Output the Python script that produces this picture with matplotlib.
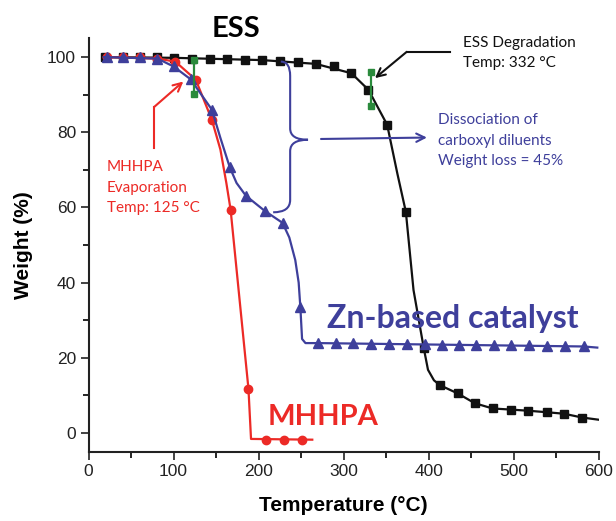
import matplotlib
matplotlib.use("Agg")
import matplotlib.pyplot as plt
from matplotlib.path import Path
from matplotlib.patches import PathPatch
from matplotlib.ticker import MultipleLocator

# ESS (black squares)
ess_t = [19, 40, 60, 80, 101, 122, 143, 163, 184, 204, 225, 246, 267, 289,
         309, 329, 351, 373, 394, 413, 434, 454, 475, 497, 517, 539, 559, 580]
ess_w = [100, 100, 100, 99.9, 99.8, 99.6, 99.5, 99.4, 99.3, 99.2, 99.0, 98.7,
         98.2, 97.5, 95.7, 91.3, 82.0, 58.8, 22.6, 12.7, 10.5, 7.9, 6.5, 6.2,
         5.9, 5.5, 5.1, 4.1]
# line through the ESS points, with the bends
ess_line_t = [19, 101, 204, 267, 309, 329, 351, 363, 373, 382, 394, 399, 406,
              413, 434, 454, 475, 497, 517, 539, 559, 580, 600]
ess_line_w = [100, 99.8, 99.2, 98.2, 95.7, 91.3, 82.0, 69.0, 58.8, 38.0, 22.6,
              16.8, 14.0, 12.7, 10.5, 7.9, 6.5, 6.2, 5.9, 5.5, 5.1, 4.1, 3.5]

# Zn-based catalyst (blue triangles)
zn_t = [22, 41, 61, 81, 100, 120, 145, 166, 185, 207, 228, 249, 270, 291,
        311, 332, 353, 374, 395, 415, 436, 456, 477, 497, 518, 539, 560, 582]
zn_w = [100, 100, 100, 99.6, 97.5, 94.1, 86.0, 70.7, 63.1, 59.1, 55.9, 33.4,
        23.9, 23.8, 23.8, 23.7, 23.7, 23.6, 23.6, 23.5, 23.5, 23.4, 23.4, 23.3,
        23.3, 23.2, 23.2, 23.0]
zn_line_t = [18, 81, 100, 120, 145, 155, 166, 174, 185, 207, 228, 236, 243,
             247, 249, 251, 255, 270, 582, 598]
zn_line_w = [100, 99.6, 97.5, 94.1, 86.0, 78.5, 70.7, 66.5, 63.1, 59.1, 55.9,
             52.0, 46.0, 40.0, 33.4, 25.0, 23.9, 23.9, 23.0, 22.7]

# MHHPA (red circles)
mh_t = [22, 41, 61, 81, 102, 126, 145, 167, 188, 209, 230, 251]
mh_w = [100, 100, 100, 99.6, 98.8, 94.0, 83.3, 59.4, 11.7, -1.8, -1.8, -1.8]
mh_line_t = [18, 81, 102, 126, 145, 155, 162, 167, 188, 191, 263]
mh_line_w = [100, 99.6, 98.8, 94.0, 83.3, 75.4, 66.5, 59.4, 11.7, -1.6, -1.8]

# error bars at the onset temperatures
err_t = [124.4, 331.7]
err_lo = [90.2, 87.0]
err_hi = [99.1, 95.9]

black = "#111111"
red = "#ec2a26"
blue = "#3e3f9b"
green = "#2a8a3c"
ann_font = "Lato"

fig = plt.figure(figsize=(6.16, 5.21), dpi=100)
ax = fig.add_axes([0.1437, 0.133, 0.8287, 0.7935])

ax.plot(ess_line_t, ess_line_w, color=black, lw=1.6, zorder=2)
ax.plot(ess_t, ess_w, "s", color=black, ms=5.5, zorder=2)
ax.plot(mh_line_t, mh_line_w, color=red, lw=1.6, zorder=3)
ax.plot(mh_t, mh_w, "o", color=red, ms=6, zorder=3)
ax.plot(zn_line_t, zn_line_w, color=blue, lw=1.6, zorder=4)
ax.plot(zn_t, zn_w, "^", color=blue, ms=7, zorder=4)

for t, lo, hi in zip(err_t, err_lo, err_hi):
    ax.plot([t, t], [lo, hi], color=green, lw=1.6, zorder=5)
    ax.plot([t, t], [lo, hi], "s", color=green, ms=5, zorder=5)

# curly brace for the carboxyl diluents
verts = [(226, 98.8), (237, 98.8), (237, 95), (237, 81), (237, 78), (258, 78),
         (237, 78), (237, 75), (237, 62), (237, 58.7), (217, 58.7)]
codes = [Path.MOVETO, Path.CURVE3, Path.CURVE3, Path.LINETO, Path.CURVE3,
         Path.CURVE3, Path.CURVE3, Path.CURVE3, Path.LINETO, Path.CURVE3,
         Path.CURVE3]
ax.add_patch(PathPatch(Path(verts, codes), fill=False, edgecolor=blue, lw=1.5,
                       zorder=4))
ax.annotate("", xy=(401, 78.6), xytext=(270, 78.2),
            arrowprops=dict(arrowstyle="->", color=blue, lw=1.5,
                            mutation_scale=15))

# red arrow
ax.plot([77, 77], [75.8, 86.7], color=red, lw=1.5)
ax.annotate("", xy=(111.4, 93.5), xytext=(77, 86.7),
            arrowprops=dict(arrowstyle="->", color=red, lw=1.5,
                            mutation_scale=15, shrinkA=0, shrinkB=0))

# black arrow
ax.plot([425, 374], [101.4, 101.4], color=black, lw=1.5, clip_on=False)
ax.annotate("", xy=(336.7, 94.4), xytext=(374, 101.4),
            arrowprops=dict(arrowstyle="->", color=black, lw=1.5,
                            mutation_scale=15, shrinkA=0, shrinkB=0),
            annotation_clip=False)

ax.text(172.8, 105.3, "ESS", fontsize=21, fontweight="bold", family=ann_font,
        ha="center", va="baseline", clip_on=False)
ax.text(440.6, 101.1, "ESS Degradation\nTemp: 332 °C", fontsize=11,
        family=ann_font, color=black, ha="left", va="center",
        linespacing=1.55, clip_on=False)
ax.text(411, 77.8, "Dissociation of\ncarboxyl diluents\nWeight loss = 45%",
        fontsize=11, family=ann_font, color=blue, ha="left", va="center",
        linespacing=1.6)
ax.text(21.8, 65.2, "MHHPA\nEvaporation\nTemp: 125 °C", fontsize=11,
        family=ann_font, color=red, ha="left", va="center", linespacing=1.6)
ax.text(280.3, 27.9, "Zn-based catalyst", fontsize=23, fontweight="bold",
        family=ann_font, color=blue, ha="left", va="baseline")
ax.text(211, 2.2, "MHHPA", fontsize=21, fontweight="bold",
        family=ann_font, color=red, ha="left", va="baseline")

ax.set_xlim(0, 600)
ax.set_ylim(-5, 105)
ax.xaxis.set_major_locator(MultipleLocator(100))
ax.xaxis.set_minor_locator(MultipleLocator(50))
ax.yaxis.set_major_locator(MultipleLocator(20))
ax.yaxis.set_minor_locator(MultipleLocator(10))
ax.spines["top"].set_visible(False)
ax.spines["right"].set_visible(False)
for s in ["left", "bottom"]:
    ax.spines[s].set_linewidth(1.5)
    ax.spines[s].set_color("#222222")
ax.tick_params(which="major", direction="out", length=6, width=1.2, pad=3,
               labelsize=12.5, colors="#222222")
ax.tick_params(which="minor", direction="out", length=4, width=1.2)
for lab in ax.get_xticklabels() + ax.get_yticklabels():
    lab.set_family("Liberation Sans")

ax.set_xlabel("Temperature (°C)", fontsize=15, fontweight="bold",
              family="Liberation Sans", labelpad=12)
ax.set_ylabel("Weight (%)", fontsize=15, fontweight="bold",
              family="Liberation Sans", labelpad=10)

fig.savefig("out.png", dpi=100)
